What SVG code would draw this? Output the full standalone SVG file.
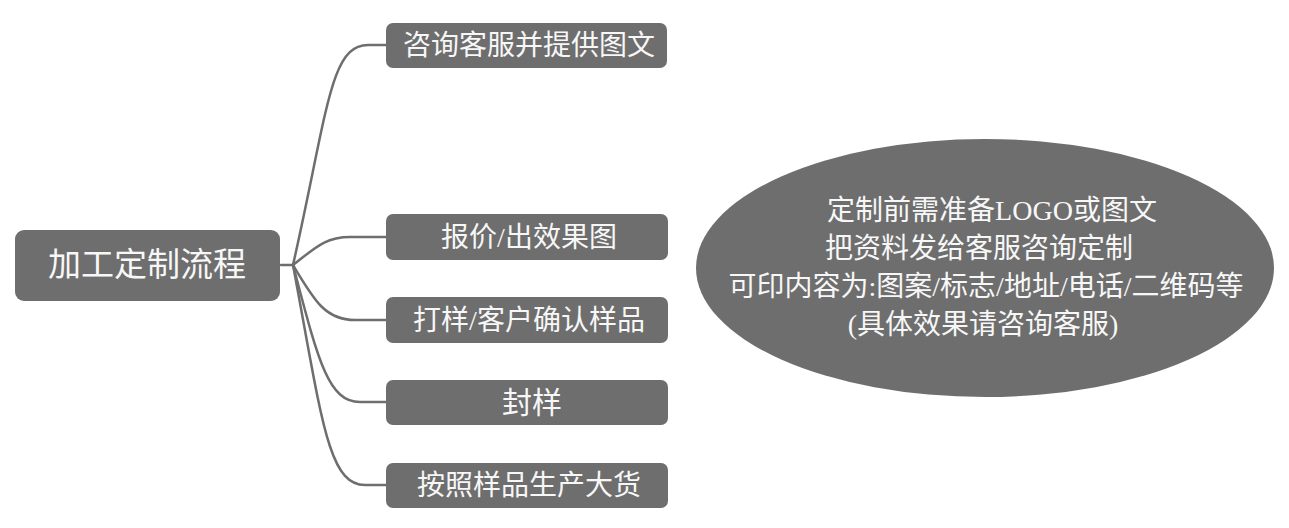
<svg xmlns="http://www.w3.org/2000/svg" width="1289" height="528" viewBox="0 0 1289 528">
<style>
.box{fill:#6e6e6e}
.t{fill:#f7f7f7;font-family:"Liberation Serif","Noto Sans CJK SC",serif;text-anchor:middle;dominant-baseline:central}
.c{fill:none;stroke:#6e6e6e;stroke-width:2.5;stroke-linecap:round}
</style>
<rect width="1289" height="528" fill="#ffffff"/>
<g id="connectors">
<path class="c" d="M281 265 H293"/>
<path class="c" d="M293 265 C328 110 330 45 368 45 H386"/>
<path class="c" d="M293 265 C315 248 325 237 350 237 H386"/>
<path class="c" d="M293 265 C314 300 325 320 355 320 H386"/>
<path class="c" d="M293 265 C318 360 328 402 360 402 H386"/>
<path class="c" d="M293 265 C322 420 328 485 365 485 H386"/>
</g>
<g id="root">
<rect class="box" x="15" y="230" width="265" height="71" rx="9"/>
<text class="t" x="147" y="265" font-size="33">加工定制流程</text>
</g>
<g id="n1">
<rect class="box" x="386" y="23" width="281" height="45" rx="7"/>
<text class="t" x="529" y="45" font-size="28">咨询客服并提供图文</text>
</g>
<g id="n2">
<rect class="box" x="386" y="214" width="282" height="46" rx="7"/>
<text class="t" x="529" y="237" font-size="28">报价/出效果图</text>
</g>
<g id="n3">
<rect class="box" x="386" y="297" width="282" height="46" rx="7"/>
<text class="t" x="529" y="320" font-size="28">打样/客户确认样品</text>
</g>
<g id="n4">
<rect class="box" x="386" y="380" width="282" height="45" rx="7"/>
<text class="t" x="532" y="402" font-size="30">封样</text>
</g>
<g id="n5">
<rect class="box" x="386" y="463" width="282" height="45" rx="7"/>
<text class="t" x="529" y="485" font-size="28">按照样品生产大货</text>
</g>
<g id="note">
<ellipse class="box" cx="985" cy="268" rx="289" ry="129"/>
<text class="t" x="992" y="210" font-size="28">定制前需准备LOGO或图文</text>
<text class="t" x="979" y="248" font-size="28">把资料发给客服咨询定制</text>
<text class="t" x="986" y="286" font-size="28">可印内容为:图案/标志/地址/电话/二维码等</text>
<text class="t" x="983" y="324" font-size="28">(具体效果请咨询客服)</text>
</g>
</svg>
